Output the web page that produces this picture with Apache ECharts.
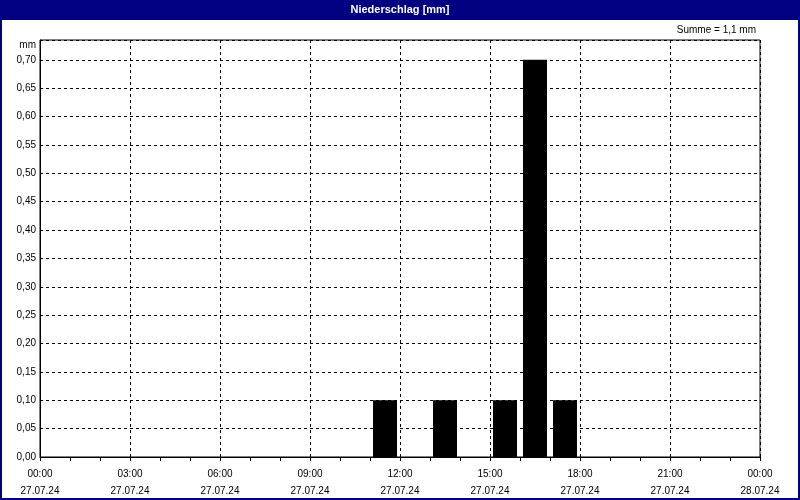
<!DOCTYPE html>
<html>
<head>
<meta charset="utf-8">
<script src="https://cdn.jsdelivr.net/npm/echarts@6/dist/echarts.min.js"></script>
<style>
  html, body { margin: 0; padding: 0; background: #fff; }
  #chart { width: 800px; height: 500px; }
</style>
</head>
<body>
<div id="chart"></div>
<script>
// hourly precipitation on 27.07.24, hour 0 = 00:00-01:00
var hours = [0,1,2,3,4,5,6,7,8,9,10,11,12,13,14,15,16,17,18,19,20,21,22,23];
var rain  = [0,0,0,0,0,0,0,0,0,0,0,0.1,0,0.1,0,0.1,0.7,0.1,0,0,0,0,0,0];
var tickDates = ['27.07.24','27.07.24','27.07.24','27.07.24','27.07.24','27.07.24','27.07.24','27.07.24','28.07.24'];
var titleText = 'Niederschlag [mm]';
var unit = 'mm';

var total = rain.reduce(function (a, b) { return a + b; }, 0);
var sumText = 'Summe = ' + total.toFixed(1).replace('.', ',') + ' ' + unit;

var barData = hours.map(function (h, i) { return [h + 0.5, rain[i]]; });
var font = 'Liberation Sans';

var chart = echarts.init(document.getElementById('chart'));
chart.setOption({
  animation: false,
  backgroundColor: '#fff',
  textStyle: { fontFamily: font },
  graphic: [
    { type: 'rect', shape: { x: 0, y: 0, width: 800, height: 20 }, style: { fill: '#000080' }, z: 0 },
    { type: 'rect', shape: { x: 1, y: 1, width: 798, height: 498 }, style: { fill: null, stroke: '#000080', lineWidth: 2 }, z: 0 },
    { type: 'text', left: 'center', top: 4, style: { text: titleText, fill: '#fff', font: 'bold 11px ' + font } },
    { type: 'text', right: 44, top: 25, style: { text: sumText, fill: '#000', font: '10px ' + font } }
  ],
  grid: { left: 40, right: 40, top: 40, bottom: 40, show: true, borderColor: '#000', borderWidth: 1, backgroundColor: 'transparent' },
  xAxis: {
    type: 'value', min: 0, max: 24, interval: 3,
    axisLine: { show: true, lineStyle: { color: '#000' } },
    axisTick: { show: true, length: 4, lineStyle: { color: '#000' } },
    minorTick: { show: true, splitNumber: 3, length: 4, lineStyle: { color: '#000' } },
    splitLine: { show: true, lineStyle: { color: '#000', type: [3, 3] } },
    axisLabel: {
      color: '#000', fontSize: 10, margin: 9, lineHeight: 17,
      formatter: function (v) {
        var i = Math.round(v / 3);
        var hh = (v % 24 < 10 ? '0' : '') + (v % 24);
        return hh + ':00\n' + tickDates[i];
      }
    }
  },
  yAxis: {
    type: 'value', min: 0, max: 0.735, interval: 0.05,
    name: unit, nameLocation: 'end', nameGap: -5,
    nameTextStyle: { color: '#000', fontSize: 10, align: 'right', verticalAlign: 'middle', padding: [0, 4, 0, 0] },
    axisLine: { show: true, lineStyle: { color: '#000' } },
    axisTick: { show: false },
    splitLine: { show: true, lineStyle: { color: '#000', type: [3, 3] } },
    axisLabel: {
      color: '#000', fontSize: 10, margin: 4, showMaxLabel: false,
      formatter: function (v) { return v.toFixed(2).replace('.', ','); }
    }
  },
  series: [{
    type: 'bar', data: barData, barWidth: 24,
    itemStyle: { color: '#000' }
  }]
});
</script>
</body>
</html>
